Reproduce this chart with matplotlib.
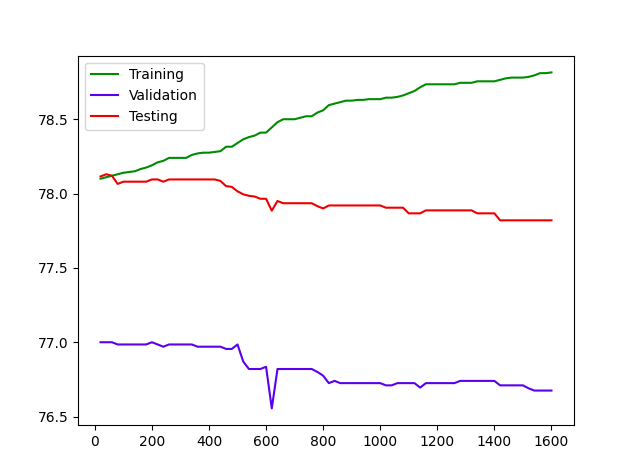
import matplotlib
matplotlib.use('Agg')
import matplotlib.pyplot as plt
import numpy as np

epochs = np.arange(20, 1601, 20)

training = [78.10, 78.11, 78.12, 78.13, 78.14, 78.145, 78.15, 78.165, 78.175, 78.19,
            78.21, 78.22, 78.24, 78.24, 78.24, 78.24, 78.26, 78.27, 78.275, 78.275,
            78.28, 78.285, 78.315, 78.315, 78.34, 78.365, 78.38, 78.39, 78.41, 78.41,
            78.445, 78.48, 78.50, 78.50, 78.50, 78.51, 78.52, 78.52, 78.545, 78.56,
            78.595, 78.605, 78.615, 78.625, 78.625, 78.63, 78.63, 78.635, 78.635, 78.635,
            78.645, 78.645, 78.65, 78.66, 78.675, 78.69, 78.715, 78.735, 78.735, 78.735,
            78.735, 78.735, 78.735, 78.745, 78.745, 78.745, 78.755, 78.755, 78.755, 78.755,
            78.765, 78.775, 78.78, 78.78, 78.78, 78.785, 78.795, 78.81, 78.81, 78.815]

validation = [77.00, 77.00, 77.00, 76.985, 76.985, 76.985, 76.985, 76.985, 76.985, 77.00,
              76.985, 76.97, 76.985, 76.985, 76.985, 76.985, 76.985, 76.97, 76.97, 76.97,
              76.97, 76.97, 76.955, 76.955, 76.985, 76.87, 76.82, 76.82, 76.82, 76.835,
              76.555, 76.82, 76.82, 76.82, 76.82, 76.82, 76.82, 76.82, 76.80, 76.775,
              76.725, 76.74, 76.725, 76.725, 76.725, 76.725, 76.725, 76.725, 76.725, 76.725,
              76.71, 76.71, 76.725, 76.725, 76.725, 76.725, 76.695, 76.725, 76.725, 76.725,
              76.725, 76.725, 76.725, 76.74, 76.74, 76.74, 76.74, 76.74, 76.74, 76.74,
              76.71, 76.71, 76.71, 76.71, 76.71, 76.69, 76.675, 76.675, 76.675, 76.675]

testing = [78.115, 78.13, 78.12, 78.065, 78.08, 78.08, 78.08, 78.08, 78.08, 78.095,
           78.095, 78.08, 78.095, 78.095, 78.095, 78.095, 78.095, 78.095, 78.095, 78.095,
           78.095, 78.085, 78.05, 78.045, 78.015, 77.995, 77.985, 77.98, 77.965, 77.965,
           77.885, 77.95, 77.935, 77.935, 77.935, 77.935, 77.935, 77.935, 77.915, 77.90,
           77.92, 77.92, 77.92, 77.92, 77.92, 77.92, 77.92, 77.92, 77.92, 77.92,
           77.905, 77.905, 77.905, 77.905, 77.867, 77.867, 77.867, 77.887, 77.887, 77.887,
           77.887, 77.887, 77.887, 77.887, 77.887, 77.887, 77.867, 77.867, 77.867, 77.867,
           77.82, 77.82, 77.82, 77.82, 77.82, 77.82, 77.82, 77.82, 77.82, 77.82]

fig = plt.figure(figsize=(6.27, 4.63), dpi=100)
# axes box as in the original 640x480 figure, which was cropped a little
plt.subplots_adjust(left=78/627, right=574/627, top=1-55.6/463, bottom=1-425.2/463)
plt.plot(epochs, training, color='#008c00', label='Training')
plt.plot(epochs, validation, color='#5a00ee', label='Validation')
plt.plot(epochs, testing, color='#ee0000', label='Testing')
plt.legend(loc='upper left')
plt.savefig('out.png', dpi=100)
